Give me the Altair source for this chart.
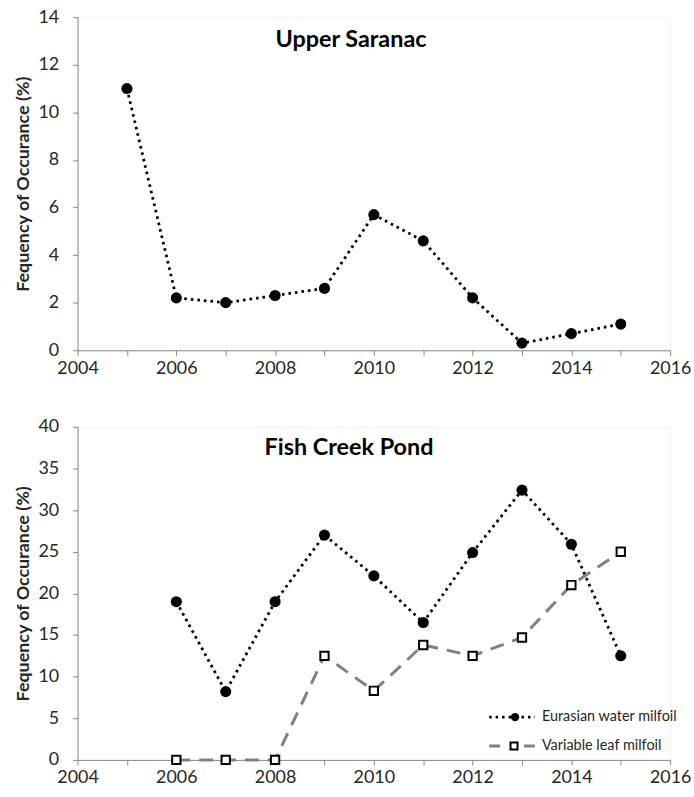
import altair as alt
import pandas as pd

# Upper Saranac: Eurasian water milfoil
us_years = [2005, 2006, 2007, 2008, 2009, 2010, 2011, 2012, 2013, 2014, 2015]
us_ewm = [11.0, 2.2, 2.0, 2.3, 2.6, 5.7, 4.6, 2.2, 0.3, 0.7, 1.1]

# Fish Creek Pond: both milfoil species
fc_years = [2006, 2007, 2008, 2009, 2010, 2011, 2012, 2013, 2014, 2015]
fc_ewm = [19.0, 8.2, 19.0, 27.0, 22.1, 16.5, 24.9, 32.4, 25.9, 12.5]
fc_vlm = [0.0, 0.0, 0.0, 12.5, 8.3, 13.8, 12.5, 14.7, 21.0, 25.0]

titles = ["Upper Saranac", "Fish Creek Pond"]
series_names = ["Eurasian water milfoil", "Variable leaf milfoil"]
y_title = "Fequency of Occurance (%)"
year_ticks = list(range(2004, 2017))

FONT = "Lato"
TEXT = "#262626"
W, H = 596, 335

us_df = pd.DataFrame({"year": us_years, "value": us_ewm})
fc_ewm_df = pd.DataFrame({"year": fc_years, "value": fc_ewm})
fc_vlm_df = pd.DataFrame({"year": fc_years, "value": fc_vlm})

x_enc = alt.X(
    "year:Q",
    scale=alt.Scale(domain=[2004, 2016], nice=False, zero=False),
    axis=alt.Axis(
        values=year_ticks,
        format="d",
        labelExpr="datum.value % 2 == 0 ? datum.label : ''",
        labelOverlap=False,
        labelFlush=False,
        title=None,
        labelPadding=4,
    ),
)


def y_enc(top, step):
    return alt.Y(
        "value:Q",
        scale=alt.Scale(domain=[0, top], nice=False),
        axis=alt.Axis(
            values=list(range(0, top + 1, step)),
            title=y_title,
            titleFont=FONT,
            titleFontSize=18,
            titleFontWeight="bold",
            titleColor=TEXT,
            titlePadding=5,
            labelPadding=14,
        ),
    )


def dotted(df, top, step):
    base = alt.Chart(df).encode(x=x_enc, y=y_enc(top, step))
    line = base.mark_line(color="black", strokeWidth=2.8, strokeDash=[2.6, 4])
    pts = base.mark_point(filled=True, shape="circle", size=125, color="black", opacity=1)
    return line + pts


def dashed(df, top, step):
    base = alt.Chart(df).encode(x=x_enc, y=y_enc(top, step))
    line = base.mark_line(color="#808080", strokeWidth=3, strokeDash=[14, 9])
    pts = base.mark_point(
        shape="square", size=70, fill="white", stroke="black", strokeWidth=2, filled=False, opacity=1
    )
    return line + pts


def panel_title(text, x, y):
    return alt.Chart(pd.DataFrame({"t": [text]})).mark_text(
        font=FONT, fontSize=23.5, fontWeight="bold", color="black", align="center", baseline="middle"
    ).encode(x=alt.value(x), y=alt.value(y), text="t:N")


top = alt.layer(
    dotted(us_df, 14, 2),
    panel_title(titles[0], 275, 23),
).properties(width=W, height=H)

# legend drawn inside the lower panel
lx0, lx1, lxm, ltx = 414, 460, 440, 467
ly1, ly2 = 292, 321
legend_layers = [
    alt.Chart(pd.DataFrame({"t": [series_names[0]]})).mark_rule(
        color="black", strokeWidth=2.6, strokeDash=[2.5, 4]
    ).encode(x=alt.value(lx0), x2=alt.value(lx1), y=alt.value(ly1)),
    alt.Chart(pd.DataFrame({"t": [series_names[0]]})).mark_point(
        filled=True, shape="circle", size=70, color="black", opacity=1
    ).encode(x=alt.value(lxm), y=alt.value(ly1)),
    alt.Chart(pd.DataFrame({"t": [series_names[1]]})).mark_rule(
        color="#808080", strokeWidth=3, strokeDash=[11, 24]
    ).encode(x=alt.value(lx0), x2=alt.value(lx1), y=alt.value(ly2)),
    alt.Chart(pd.DataFrame({"t": [series_names[1]]})).mark_point(
        shape="square", size=50, fill="white", stroke="black", strokeWidth=2, filled=False, opacity=1
    ).encode(x=alt.value(lxm - 1), y=alt.value(ly2)),
    alt.Chart(pd.DataFrame({"t": series_names, "row": [ly1, ly2]})).mark_text(
        font=FONT, fontSize=14.5, color=TEXT, align="left", baseline="middle"
    ).encode(x=alt.value(ltx), y=alt.Y("row:Q", scale=None), text="t:N"),
]

bottom = alt.layer(
    dotted(fc_ewm_df, 40, 5),
    dashed(fc_vlm_df, 40, 5),
    panel_title(titles[1], 273, 21),
    *legend_layers,
).properties(width=W, height=H)

chart = (
    alt.vconcat(top, bottom, spacing=39)
    .properties(padding={"left": 14, "top": 5, "right": 2, "bottom": 2}, background="white")
    .configure_view(stroke="#f2f2f2", strokeWidth=1)
    .configure_axis(
        grid=False,
        domainColor="#868686",
        tickColor="#868686",
        tickSize=5,
        labelFont=FONT,
        labelFontSize=18,
        labelColor=TEXT,
    )
)

chart.save("out.html", embed_options={"renderer": "svg", "actions": False})
